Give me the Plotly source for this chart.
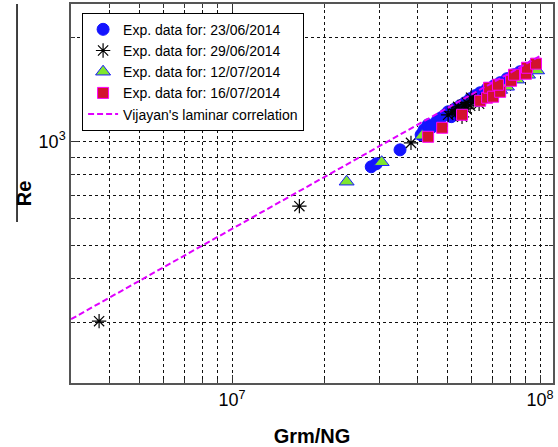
import plotly.graph_objects as go

# ---- data ----
blue_x = [2.83e7, 2.94e7, 3.51e7, 4.11e7, 4.20e7, 4.33e7, 4.63e7, 4.77e7, 4.92e7, 5.03e7,
          5.30e7, 5.50e7, 5.71e7, 5.93e7, 6.15e7, 6.39e7, 6.73e7, 7.09e7, 7.42e7, 7.81e7,
          8.23e7, 8.61e7, 9.07e7, 9.49e7, 4.45e7, 5.15e7]
blue_y = [845, 862, 946, 1046, 1081, 1118, 1148, 1171, 1195, 1219,
          1244, 1269, 1295, 1330, 1357, 1384, 1422, 1450, 1480, 1520,
          1561, 1592, 1624, 1657, 1100, 1180]

star_x = [3.70e6, 1.654e7, 3.81e7, 5.03e7, 5.18e7, 5.30e7, 5.42e7, 5.54e7, 5.67e7, 5.79e7,
          5.93e7, 6.06e7, 6.20e7, 6.34e7, 5.58e7, 5.34e7, 5.75e7, 5.97e7]
star_y = [302, 650, 991, 1195, 1219, 1236, 1260, 1227, 1277, 1295,
          1269, 1303, 1330, 1286, 1179, 1203, 1244, 1339]

tri_x = [2.355e7, 3.06e7, 4.14e7, 6.88e7, 7.42e7, 7.81e7, 8.42e7, 9.14e7, 9.78e7]
tri_y = [765, 871, 1039, 1375, 1410, 1440, 1510, 1560, 1605]

sq_x = [4.33e7, 4.81e7, 5.58e7, 6.39e7, 6.73e7, 6.83e7, 7.04e7, 7.42e7, 7.30e7, 8.05e7,
        8.23e7, 9.00e7, 9.07e7, 9.70e7]
sq_y = [1032, 1096, 1195, 1312, 1339, 1431, 1348, 1393, 1460, 1499,
        1561, 1571, 1635, 1680]

corr_x = [3.0e6, 1.0e8]
corr_y = [306, 1768]

x_major = [1e7, 1e8]
x_major_text = ["10<sup>7</sup>", "10<sup>8</sup>"]
x_minor = [4e6, 5e6, 6e6, 7e6, 8e6, 9e6, 2e7, 3e7, 4e7, 5e7, 6e7, 7e7, 8e7, 9e7]
y_major = [1000]
y_major_text = ["10<sup>3</sup>"]
y_minor = [300, 400, 500, 600, 700, 800, 900, 2000]

labels = ["Exp. data for: 23/06/2014", "Exp. data for: 29/06/2014",
          "Exp. data for: 12/07/2014", "Exp. data for: 16/07/2014",
          "Vijayan's laminar correlation"]

FONT = "Arial, Liberation Sans, sans-serif"

fig = go.Figure()
fig.add_trace(go.Scatter(x=blue_x, y=blue_y, mode="markers", name=labels[0],
                         marker=dict(symbol="circle", size=12, color="#1414ff",
                                     line=dict(color="#1414ff", width=1))))
fig.add_trace(go.Scatter(x=star_x, y=star_y, mode="markers", name=labels[1],
                         marker=dict(symbol="asterisk-open", size=12, color="black",
                                     line=dict(color="black", width=1.2))))
fig.add_trace(go.Scatter(x=tri_x, y=tri_y, mode="markers", name=labels[2],
                         marker=dict(symbol="triangle-up", size=13, color="#7fe62e",
                                     line=dict(color="#1a1aff", width=1))))
fig.add_trace(go.Scatter(x=sq_x, y=sq_y, mode="markers", name=labels[3],
                         marker=dict(symbol="square", size=11, color="#d2122e",
                                     line=dict(color="#ff00ff", width=1))))
fig.add_trace(go.Scatter(x=corr_x, y=corr_y, mode="lines", name=labels[4],
                         line=dict(color="#e000ff", width=2, dash="6px,3px")))

grid = dict(gridcolor="#111111", gridwidth=1, griddash="3px,3px")

fig.update_layout(
    width=558, height=447,
    margin=dict(l=71, r=5, t=4, b=64),
    paper_bgcolor="white", plot_bgcolor="white",
    font=dict(family=FONT, color="black"),
    showlegend=True,
    legend=dict(x=0.023, y=0.977, xanchor="left", yanchor="top",
                bgcolor="white", bordercolor="black", borderwidth=1,
                font=dict(size=14, family=FONT), tracegroupgap=0,
                itemsizing="trace"),
    xaxis=dict(type="log", range=[6.477, 8.042], automargin=False,
               tickmode="array", tickvals=x_major, ticktext=x_major_text,
               tickfont=dict(size=18), ticks="inside", ticklen=8, tickcolor="#333",
               showgrid=True, **grid,
               minor=dict(tickmode="array", tickvals=x_minor, showgrid=True,
                          ticks="inside", ticklen=4, tickcolor="#333", **grid),
               showline=True, linecolor="#555555", linewidth=1.5, mirror="ticks",
               zeroline=False,
               title=dict(text="<b>Grm/NG</b>", font=dict(size=20), standoff=20)),
    yaxis=dict(type="log", range=[2.30103, 3.398], automargin=False,
               tickmode="array", tickvals=y_major, ticktext=y_major_text,
               tickfont=dict(size=18), ticks="inside", ticklen=8, tickcolor="#333",
               showgrid=True, **grid,
               minor=dict(tickmode="array", tickvals=y_minor, showgrid=True,
                          ticks="inside", ticklen=4, tickcolor="#333", **grid),
               showline=True, linecolor="#555555", linewidth=1.5, mirror="ticks",
               zeroline=False,
               title=dict(text="<b>Re</b>", font=dict(size=20), standoff=2)),
)

# overline of the y-axis title (as drawn in the original)
fig.add_shape(type="line", xref="paper", yref="paper",
              x0=-0.112, x1=-0.112, y0=0.425, y1=1.0,
              line=dict(color="black", width=1.5))

fig.write_html("out.html", config={"displayModeBar": False},
               post_script="document.body.style.margin='0px';")
